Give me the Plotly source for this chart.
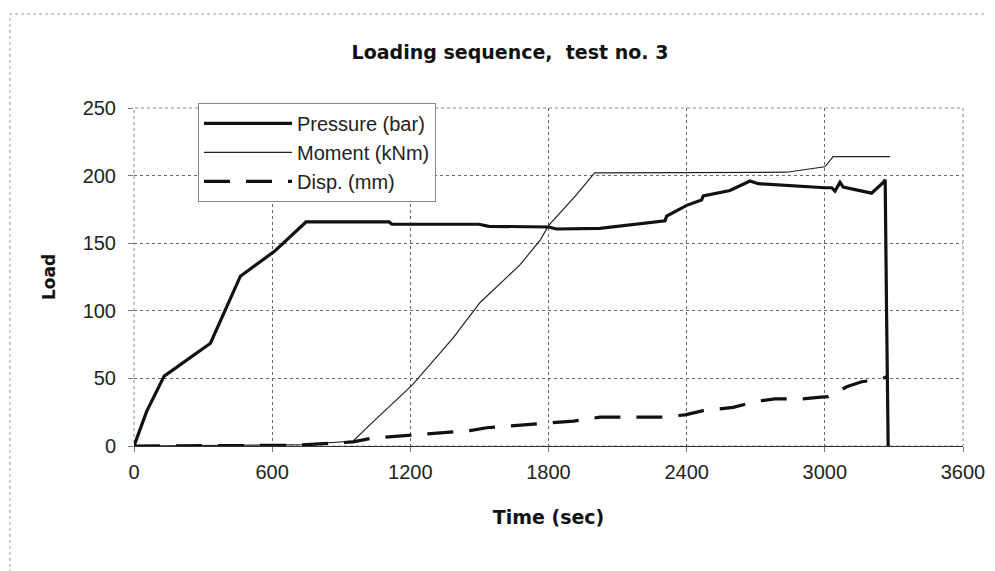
import plotly.graph_objects as go

# ---- data ----
pressure_t = [0, 55, 131, 332, 462, 610, 747, 1108, 1120, 1498, 1541, 1800, 1835, 2023,
              2306, 2313, 2400, 2465, 2472, 2588, 2675, 2711, 3000, 3030, 3044, 3066,
              3080, 3203, 3254, 3262, 3268, 3275]
pressure = [0, 25.6, 51.7, 76, 125.6, 144, 165.7, 165.7, 164, 164, 162.5, 162, 160.5, 161,
            166.5, 170, 178, 182, 185, 189, 196, 194, 191, 191, 188.5, 195,
            191.5, 187, 195, 197, 100, 0]

moment_t = [0, 600, 740, 952, 1039, 1208, 1314, 1386, 1502, 1632, 1676, 1763, 1800,
            1922, 2000, 2834, 3000, 3036, 3283]
moment = [0, 0.5, 1, 3.7, 18, 45, 66, 80, 106, 127, 134, 152, 163,
          186, 202, 202.5, 206.5, 214, 214]

disp_t = [0, 700, 952, 1039, 1148, 1264, 1343, 1459, 1531, 1647, 1720, 1835, 1908,
          2023, 2284, 2393, 2472, 2602, 2704, 2783, 2899, 2971, 3015, 3051, 3095,
          3160, 3246, 3268]
disp = [0, 0.5, 3, 6, 7.3, 9, 9.7, 11.4, 13.5, 15, 15.5, 17, 18.4,
        21.3, 21.3, 23, 26.2, 28.6, 33.1, 34.8, 34.8, 36, 36.5, 39.6, 43.8,
        47.5, 49.5, 51.2]

series_names = ["Pressure (bar)", "Moment (kNm)", "Disp. (mm)"]
x_ticks = [0, 600, 1200, 1800, 2400, 3000, 3600]
y_ticks = [0, 50, 100, 150, 200, 250]

title_text = "Loading sequence,&nbsp; test no. 3"
x_title = "Time (sec)"
y_title = "Load"

# ---- figure ----
fig = go.Figure()
fig.add_trace(go.Scatter(x=moment_t, y=moment, mode="lines", name=series_names[1],
                         legendrank=2,
                         line=dict(color="#222222", width=1.2)))
fig.add_trace(go.Scatter(x=disp_t, y=disp, mode="lines", name=series_names[2],
                         legendrank=3,
                         line=dict(color="#111111", width=3.2, dash="26px,16px")))
fig.add_trace(go.Scatter(x=pressure_t, y=pressure, mode="lines", name=series_names[0],
                         legendrank=1,
                         line=dict(color="#111111", width=3.2)))

tick_font = dict(family="Liberation Sans, Arial, sans-serif", size=20, color="#222")
bold_font = dict(family="DejaVu Sans, sans-serif", size=19, color="#111")

# the page body adds an 8px offset, so the figure is sized to fit the window
W, H = 987, 563

fig.update_layout(
    width=W, height=H,
    margin=dict(l=126, r=32, t=100, b=125, autoexpand=False),
    paper_bgcolor="white", plot_bgcolor="white",
    title=dict(text="<b>" + title_text + "</b>", x=0.5086, xanchor="center",
               y=0.9218, yanchor="middle", font=bold_font),
    showlegend=True,
    legend=dict(x=0.0772, y=1.015, xanchor="left", yanchor="top",
                bgcolor="white", bordercolor="#888", borderwidth=1,
                font=dict(family="Liberation Sans, Arial, sans-serif", size=20, color="#222"),
                traceorder="normal", itemwidth=88, tracegroupgap=0),
    xaxis=dict(range=[0, 3600], tickvals=x_ticks, ticktext=[str(v) for v in x_ticks],
               showgrid=True, gridcolor="#666", griddash="dot", gridwidth=1,
               zeroline=False, showline=True, linecolor="#333", linewidth=1,
               ticks="outside", ticklen=5, tickcolor="#777", ticklabelstandoff=3,
               tickfont=tick_font, automargin=False,
               title=dict(text="<b>" + x_title + "</b>", font=bold_font, standoff=28)),
    yaxis=dict(range=[0, 250], tickvals=y_ticks, ticktext=[str(v) for v in y_ticks],
               showgrid=True, gridcolor="#666", griddash="dot", gridwidth=1,
               zeroline=False, showline=False,
               ticks="outside", ticklen=5, tickcolor="#777", ticklabelstandoff=8,
               tickfont=tick_font, automargin=False,
               title=dict(text="<b>" + y_title + "</b>",
                          font=dict(family="DejaVu Sans, sans-serif", size=17, color="#111"),
                          standoff=22)),
    shapes=[
        dict(type="rect", xref="x domain", yref="y domain", x0=0, x1=1, y0=0, y1=1,
             line=dict(color="#888", width=1, dash="dot"), layer="below"),
        dict(type="rect", xref="paper", yref="paper", x0=-0.1496, x1=1.3, y0=-0.6, y1=1.278,
             line=dict(color="#999", width=1, dash="dot"), layer="below"),
    ],
)

fig.write_html("out.html")
